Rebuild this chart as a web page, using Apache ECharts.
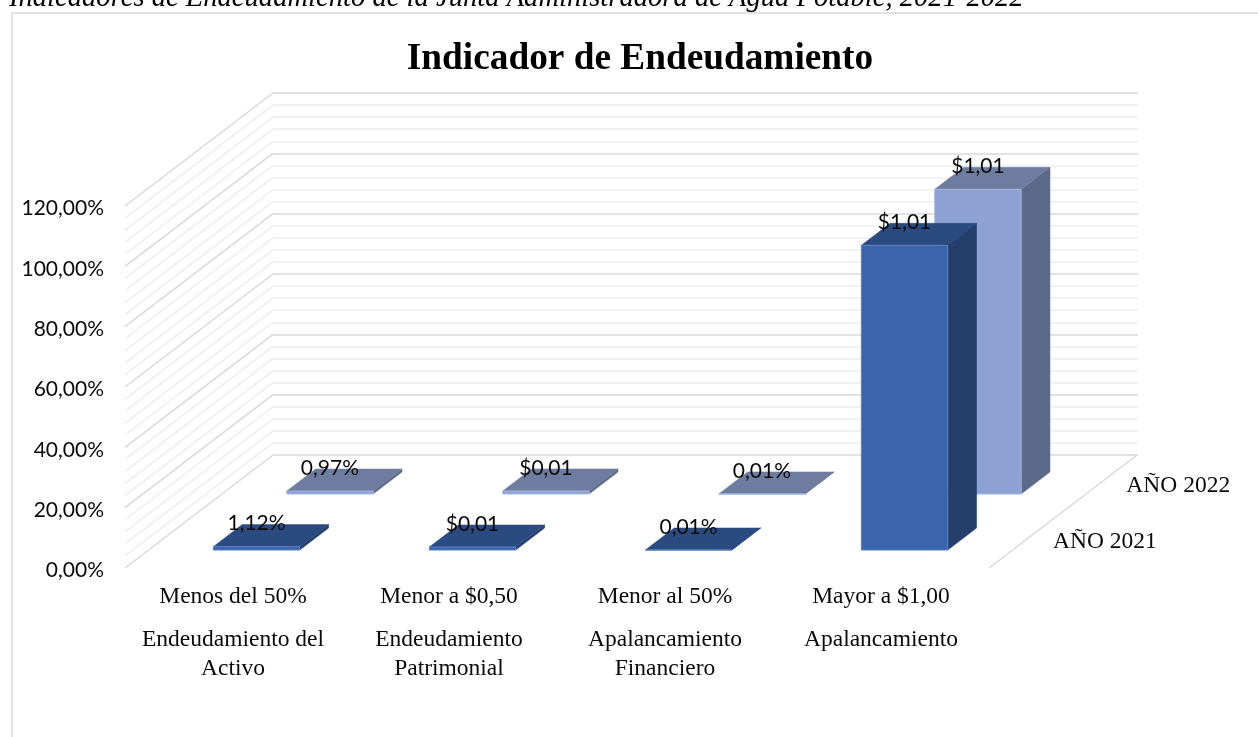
<!DOCTYPE html>
<html>
<head>
<meta charset="utf-8">
<style>html,body{margin:0;padding:0;background:#fff;overflow:hidden}#chart{width:1258px;height:737px}</style>
<script src="https://cdn.jsdelivr.net/npm/echarts@6/dist/echarts.min.js"></script>
</head>
<body>
<div id="chart"></div>
<script>
// ---- data ----
const captionText = 'Indicadores de Endeudamiento de la Junta Administradora de Agua Potable, 2021-2022';
const chartTitle = 'Indicador de Endeudamiento';
const indicators = ['Endeudamiento del\nActivo', 'Endeudamiento\nPatrimonial', 'Apalancamiento\nFinanciero', 'Apalancamiento'];
const thresholds = ['Menos del 50%', 'Menor a $0,50', 'Menor al 50%', 'Mayor a $1,00'];
const depthNames = ['AÑO 2021', 'AÑO 2022'];
const values2021 = [0.0112, 0.01, 0.0001, 1.01];
const values2022 = [0.0097, 0.01, 0.0001, 1.01];
const labels2021 = ['1,12%', '$0,01', '0,01%', '$1,01'];
const labels2022 = ['0,97%', '$0,01', '0,01%', '$1,01'];
const gridValues = [];
for (let i = 0; i <= 30; i++) gridValues.push(i);   // index of 4 % gridlines

// ---- layout ----
const front = {left: 125, width: 864, top: 206, height: 362};
const back  = {left: 273, width: 865, top: 93,  height: 362};
const depthDX = back.left - front.left;
const depthDY = (back.top + back.height) - (front.top + front.height);
const slot = [0.159, 0.655];          // depth where each row begins (0 front, 1 back)
const barDepth = 0.195;
const barWidthRatio = 0.4;
const textBlack = '#0a0a0a';

const palette = [
  {front: '#3A64AC', side: '#253F6D', top: '#2B4A80', edge: '#5F83BF'},
  {front: '#8FA2D4', side: '#5C6A8A', top: '#6E7CA0', edge: '#A4B4DC'}
];

function barRenderer(row, labels) {
  return function (params, api) {
    const idx = api.value(0);
    const base = api.coord([idx, 0]);
    const topP = api.coord([idx, api.value(1)]);
    const w = api.size([1, 0])[0] * barWidthRatio;
    const x0 = base[0] + depthDX * slot[row] - w / 2;
    const x1 = x0 + w;
    const yB = base[1] + depthDY * slot[row];
    const yT = topP[1] + depthDY * slot[row];
    const dx = depthDX * barDepth, dy = depthDY * barDepth;
    const c = palette[row];
    const poly = (pts, fill, stroke) => ({
      type: 'polygon',
      shape: {points: pts},
      style: {fill: fill, stroke: stroke || fill, lineWidth: stroke ? 1 : 0.5}
    });
    return {
      type: 'group',
      children: [
        poly([[x1, yB], [x1 + dx, yB + dy], [x1 + dx, yT + dy], [x1, yT]], c.side),
        poly([[x0, yT], [x1, yT], [x1 + dx, yT + dy], [x0 + dx, yT + dy]], c.top),
        poly([[x0, yB], [x1, yB], [x1, yT], [x0, yT]], c.front, c.edge),
        {
          type: 'text',
          z2: 100,
          style: {
            text: labels[idx],
            x: (x0 + x1) / 2,
            y: yT + dy - 1,
            align: 'center',
            verticalAlign: 'middle',
            fill: textBlack,
            font: '21px Lato, "Open Sans", sans-serif'
          }
        }
      ]
    };
  };
}

const pct = v => '{a|' + (v * 100).toFixed(2).replace('.', ',') + '%}';
const wallGray = '#D9D9D9', minorGray = '#EEEEEE';

const option = {
  animation: false,
  backgroundColor: '#fff',
  title: [
    {text: captionText, left: 9, top: -16, padding: 0,
     textStyle: {fontFamily: '"Liberation Serif", serif', fontStyle: 'italic', fontWeight: 'normal', fontSize: 28.6, color: '#000'}},
    {text: chartTitle, left: 640, textAlign: 'center', top: 41, padding: 0,
     textStyle: {fontFamily: '"Liberation Serif", serif', fontWeight: 'bold', fontSize: 37.3, color: '#000'}}
  ],
  graphic: [{
    type: 'rect', silent: true, z: -1,
    shape: {x: 12, y: 13, width: 1300, height: 800},
    style: {fill: 'none', stroke: '#D9D9D9', lineWidth: 1.5}
  }],
  grid: [
    {left: back.left, width: back.width, top: back.top, height: back.height},
    {left: front.left, width: front.width, top: front.top, height: front.height}
  ],
  xAxis: [
    {gridIndex: 0, type: 'category', data: indicators, show: false},
    {gridIndex: 1, type: 'category', data: indicators,
     axisLine: {show: false}, axisTick: {show: false},
     axisLabel: {
       interval: 0, margin: 0, color: textBlack,
       formatter: (v, i) => '{t|' + thresholds[i] + '}\n' + v.split('\n').map(s => '{n|' + s + '}').join('\n'),
       rich: {
         t: {fontFamily: '"Liberation Serif", serif', fontSize: 23.5, lineHeight: 57, color: textBlack, align: 'center'},
         n: {fontFamily: '"Liberation Serif", serif', fontSize: 23.5, lineHeight: 29, color: textBlack, align: 'center'}
       }
     }}
  ],
  yAxis: [
    {gridIndex: 0, type: 'value', min: 0, max: 1.2, interval: 0.2,
     axisLine: {show: false}, axisTick: {show: false}, axisLabel: {show: false},
     minorTick: {show: false, splitNumber: 5},
     splitLine: {show: true, lineStyle: {color: wallGray, width: 1.5}},
     minorSplitLine: {show: true, lineStyle: {color: minorGray, width: 1.5}}},
    {gridIndex: 1, type: 'value', min: 0, max: 1.2, interval: 0.2,
     axisLine: {show: false}, axisTick: {show: false}, splitLine: {show: false},
     axisLabel: {margin: 21, color: textBlack, formatter: pct,
       rich: {a: {fontFamily: 'Lato, "Open Sans", sans-serif', fontSize: 21, color: textBlack, padding: [5, 0, 0, 0]}}}}
  ],
  series: [
    {
      type: 'custom', name: 'walls', xAxisIndex: 1, yAxisIndex: 1, silent: true, z: 1, clip: false,
      data: gridValues.map(i => [i]),
      renderItem: (params, api) => {
        const i = api.value(0);
        const v = i * 0.04;
        const p = api.coord([0, v]);
        const x = p[0] - api.size([1, 0])[0] / 2;
        const major = i % 5 === 0;
        const children = [{
          type: 'line',
          shape: {x1: x, y1: p[1], x2: x + depthDX, y2: p[1] + depthDY},
          style: {stroke: major ? wallGray : minorGray, lineWidth: 1.5}
        }];
        if (i === 0) {
          const r = x + front.width;
          children.push({
            type: 'line',
            shape: {x1: r, y1: p[1], x2: r + depthDX, y2: p[1] + depthDY},
            style: {stroke: wallGray, lineWidth: 1.5}
          });
        }
        return {type: 'group', children};
      }
    },
    {
      type: 'custom', name: depthNames[1], xAxisIndex: 1, yAxisIndex: 1, z: 3, clip: false, silent: true,
      data: values2022.map((v, i) => [i, v]),
      renderItem: barRenderer(1, labels2022)
    },
    {
      type: 'custom', name: depthNames[0], xAxisIndex: 1, yAxisIndex: 1, z: 4, clip: false, silent: true,
      data: values2021.map((v, i) => [i, v]),
      renderItem: barRenderer(0, labels2021)
    },
    {
      type: 'custom', name: 'depth axis', xAxisIndex: 1, yAxisIndex: 1, z: 5, clip: false, silent: true,
      data: depthNames.map((n, i) => [i]),
      renderItem: (params, api) => {
        const row = api.value(0);
        const p = api.coord([3, 0]);
        const t = slot[row] + barDepth / 2;
        return {
          type: 'text',
          style: {
            text: depthNames[row],
            x: p[0] + api.size([1, 0])[0] / 2 + depthDX * t + 26,
            y: p[1] + depthDY * t + 3,
            align: 'left', verticalAlign: 'middle', fill: textBlack,
            font: '23.5px "Liberation Serif", serif'
          }
        };
      }
    }
  ]
};

const chart = echarts.init(document.getElementById('chart'), null, {renderer: 'canvas'});
chart.setOption(option);
</script>
</body>
</html>
